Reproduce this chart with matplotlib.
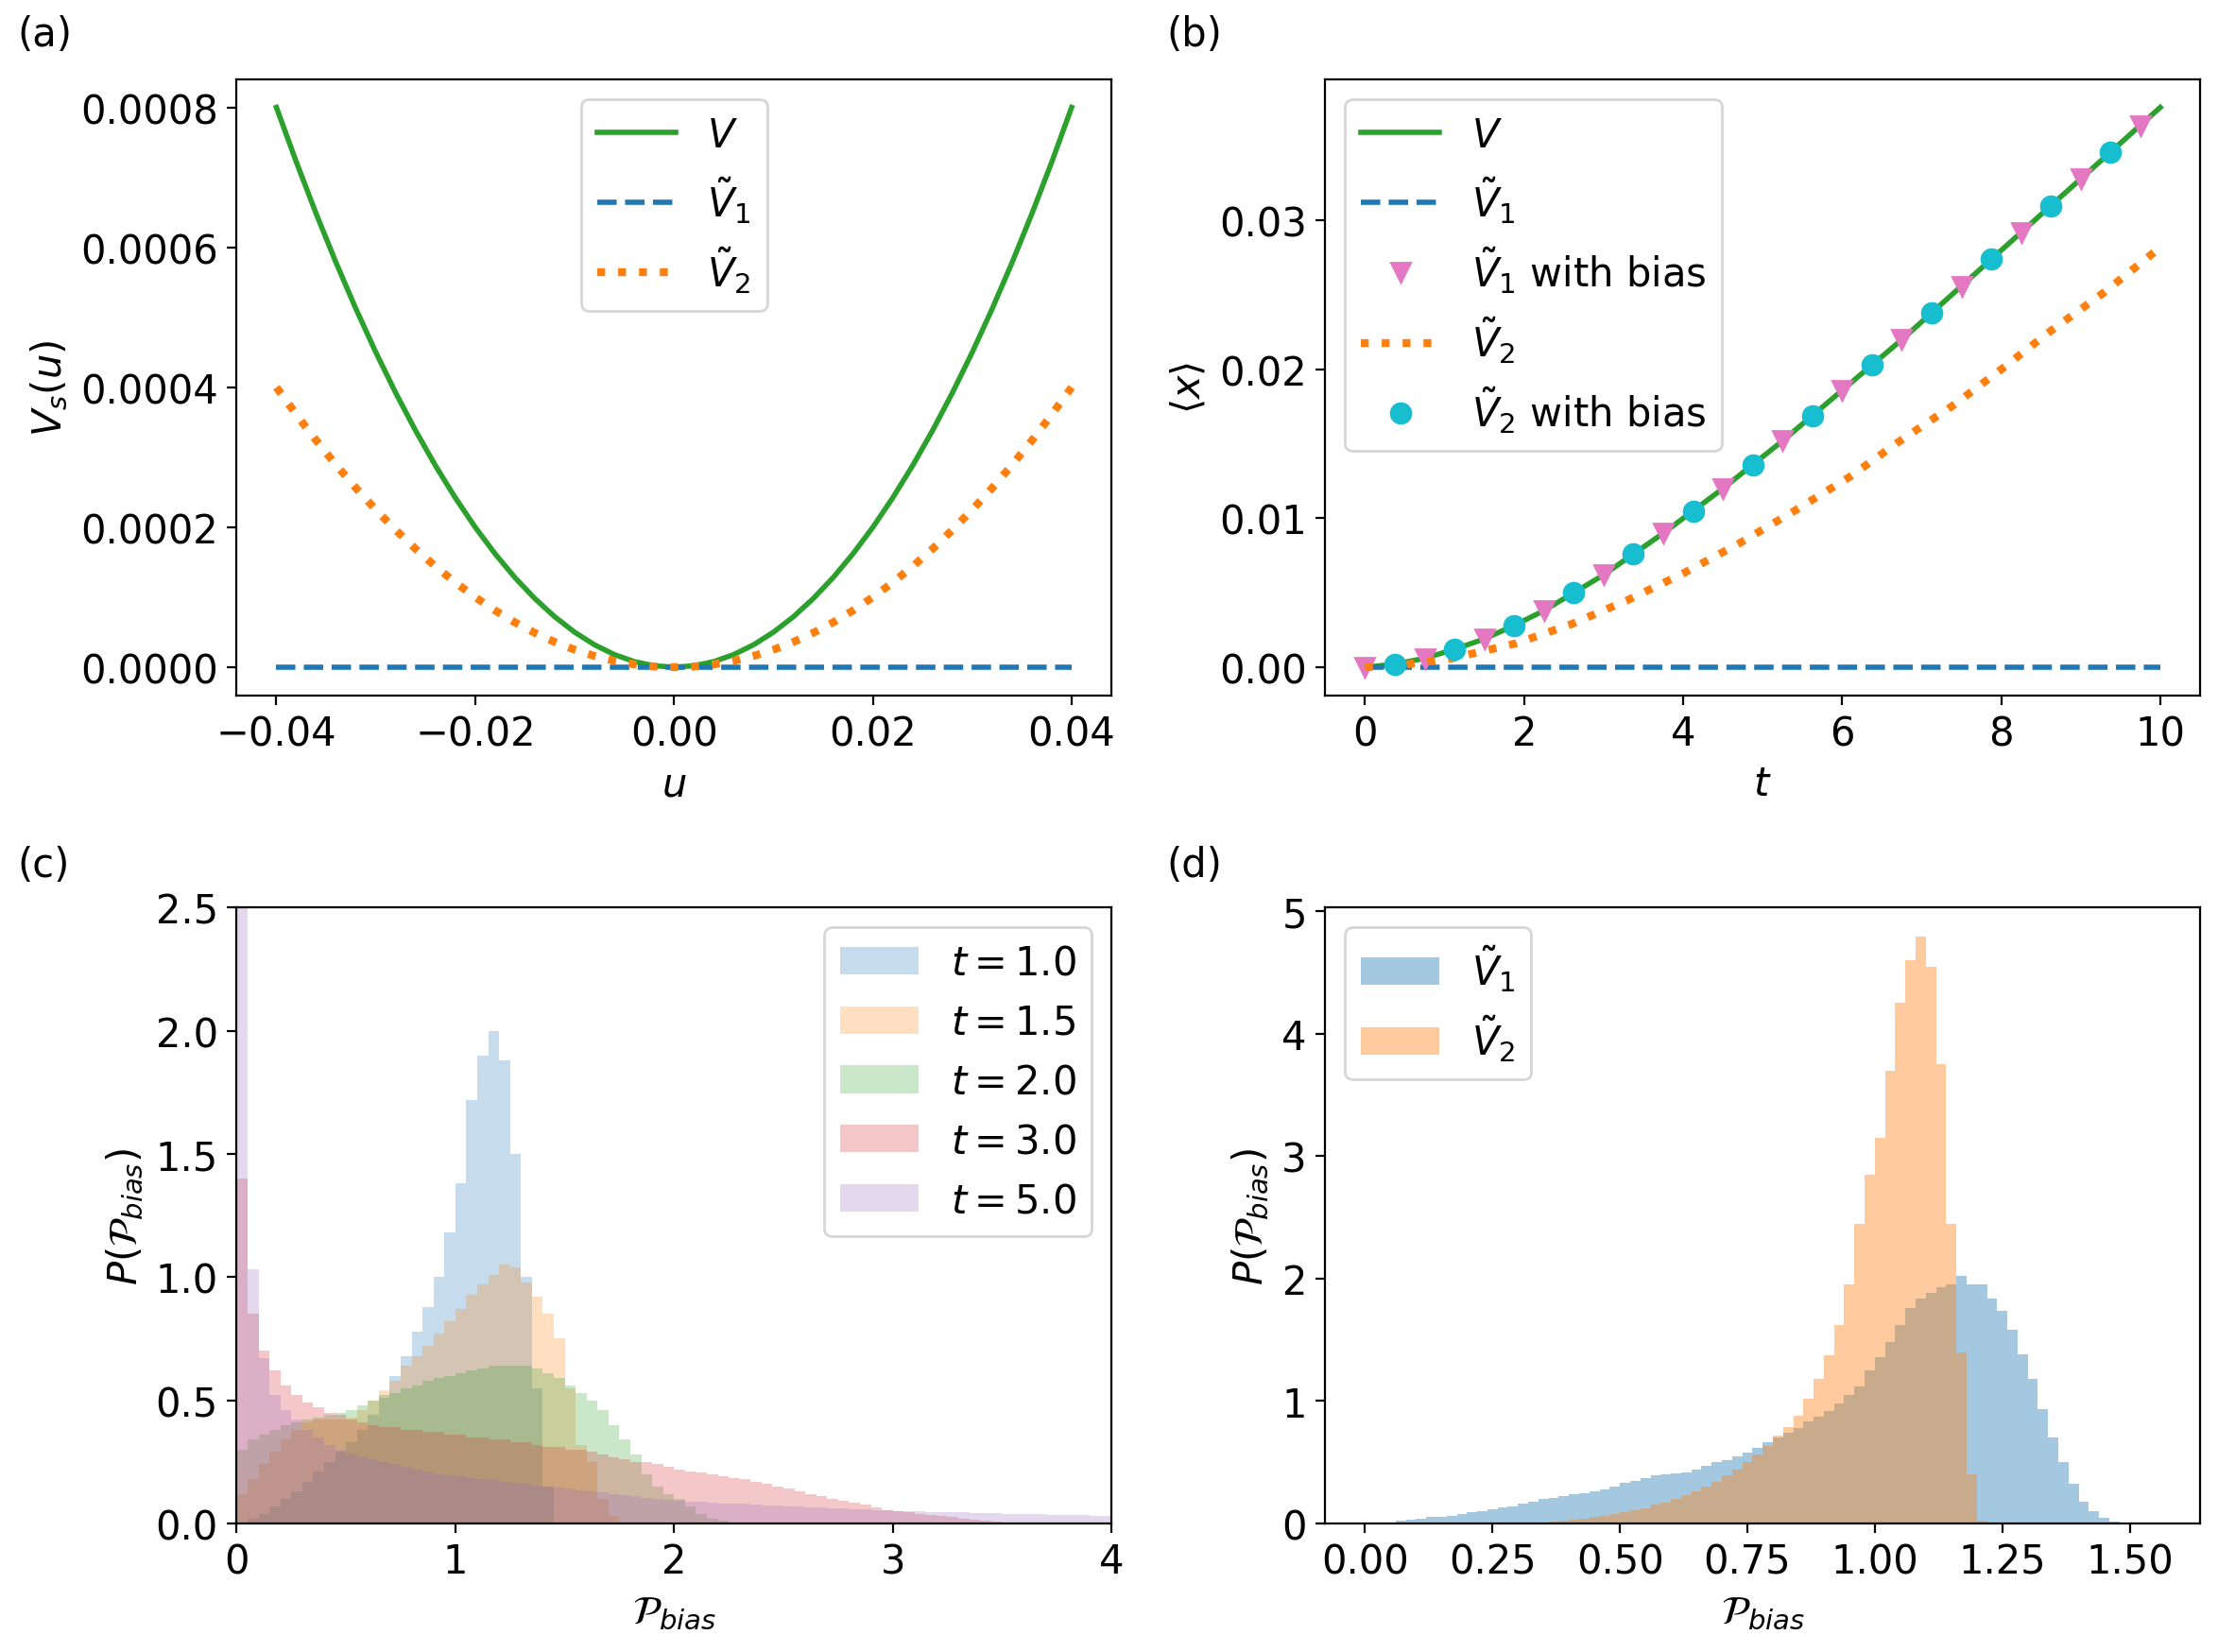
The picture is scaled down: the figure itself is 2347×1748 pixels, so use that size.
import matplotlib
matplotlib.use('Agg')
import matplotlib.pyplot as plt
import numpy as np

plt.rcParams['font.size'] = 15

# ---- (a) potentials ----
u = [-0.040, -0.038, -0.036, -0.034, -0.032, -0.030, -0.028, -0.026, -0.024, -0.022,
     -0.020, -0.018, -0.016, -0.014, -0.012, -0.010, -0.008, -0.006, -0.004, -0.002,
     0.000, 0.002, 0.004, 0.006, 0.008, 0.010, 0.012, 0.014, 0.016, 0.018,
     0.020, 0.022, 0.024, 0.026, 0.028, 0.030, 0.032, 0.034, 0.036, 0.038, 0.040]
V_a = np.array([800, 722, 648, 578, 512, 450, 392, 338, 288, 242,
                200, 162, 128, 98, 72, 50, 32, 18, 8, 2,
                0, 2, 8, 18, 32, 50, 72, 98, 128, 162,
                200, 242, 288, 338, 392, 450, 512, 578, 648, 722, 800]) * 1e-6
V2_a = np.array([400, 361, 324, 289, 256, 225, 196, 169, 144, 121,
                 100, 81, 64, 49, 36, 25, 16, 9, 4, 1,
                 0, 1, 4, 9, 16, 25, 36, 49, 64, 81,
                 100, 121, 144, 169, 196, 225, 256, 289, 324, 361, 400]) * 1e-6
u_flat = [-0.04, 0.04]
V1_a = [0.0, 0.0]

# ---- (b) mean position ----
t_V = [0, 0.375, 0.75, 1.125, 1.5, 1.875, 2.25, 2.625, 3.0, 3.375, 3.75, 4.125, 4.5, 4.875,
       5.25, 5.625, 6.0, 6.375, 6.75, 7.125, 7.5, 7.875, 8.25, 8.625, 9.0, 9.375, 9.75, 10]
x_V = [0, 0.0002, 0.0006, 0.0012, 0.0019, 0.0028, 0.0038, 0.0050, 0.0062, 0.0076, 0.0090,
       0.0105, 0.0120, 0.0136, 0.0152, 0.0169, 0.0186, 0.0203, 0.0220, 0.0238, 0.0256,
       0.0274, 0.0292, 0.0310, 0.0328, 0.0346, 0.0364, 0.0376]
t_V1 = [0, 10]
x_V1 = [0, 0]
t_tri = [0, 0.75, 1.5, 2.25, 3.0, 3.75, 4.5, 5.25, 6.0, 6.75, 7.5, 8.25, 9.0, 9.75]
x_tri = [0, 0.0006, 0.0019, 0.0038, 0.0062, 0.0090, 0.0120, 0.0152, 0.0186, 0.0220,
         0.0256, 0.0292, 0.0328, 0.0364]
t_V2 = [0, 0.4, 1.1, 1.9, 2.6, 3.3, 4.0, 4.7, 5.4, 6.1, 6.7, 7.4, 8.0, 8.6, 9.3, 10]
x_V2 = [0, 0.0001, 0.0006, 0.0016, 0.0029, 0.0045, 0.0063, 0.0083, 0.0105, 0.0128,
        0.0151, 0.0176, 0.0200, 0.0225, 0.0252, 0.0282]
t_circ = [0.375, 1.125, 1.875, 2.625, 3.375, 4.125, 4.875, 5.625, 6.375, 7.125,
          7.875, 8.625, 9.375]
x_circ = [0.0002, 0.0012, 0.0028, 0.0050, 0.0076, 0.0105, 0.0136, 0.0169, 0.0203,
          0.0238, 0.0274, 0.0310, 0.0346]

# ---- (c) P_bias histograms for several times, bin width 0.05 from 0 ----
dw_c = 0.05
labels_c = ['$t=1.0$', '$t=1.5$', '$t=2.0$', '$t=3.0$', '$t=5.0$']
h_t10 = [0.00, 0.02, 0.04, 0.07, 0.10, 0.13, 0.17, 0.21, 0.25, 0.29,
         0.33, 0.38, 0.44, 0.51, 0.60, 0.68, 0.78, 0.88, 1.00, 1.18,
         1.38, 1.72, 1.90, 2.00, 1.88, 1.50, 1.00, 0.55, 0.15, 0.00]
h_t15 = [0.12, 0.18, 0.24, 0.29, 0.34, 0.38, 0.41, 0.42, 0.42, 0.42,
         0.43, 0.46, 0.50, 0.54, 0.58, 0.64, 0.68, 0.72, 0.77, 0.82,
         0.87, 0.93, 0.97, 1.01, 1.05, 1.04, 0.98, 0.92, 0.85, 0.75,
         0.55, 0.32, 0.25, 0.10, 0.03, 0.00]
h_t20 = [0.30, 0.34, 0.36, 0.38, 0.40, 0.41, 0.42, 0.43, 0.44, 0.45,
         0.46, 0.48, 0.50, 0.52, 0.53, 0.55, 0.56, 0.58, 0.59, 0.60,
         0.61, 0.62, 0.63, 0.64, 0.64, 0.64, 0.64, 0.63, 0.61, 0.59,
         0.56, 0.53, 0.50, 0.46, 0.40, 0.34, 0.28, 0.20, 0.15, 0.12,
         0.10, 0.07, 0.04, 0.02, 0.01, 0.00]
h_t30 = [1.40, 0.85, 0.70, 0.62, 0.56, 0.52, 0.49, 0.47, 0.45, 0.44,
         0.42, 0.41, 0.40, 0.39, 0.39, 0.38, 0.38, 0.37, 0.37, 0.36,
         0.36, 0.35, 0.35, 0.34, 0.34, 0.33, 0.33, 0.32, 0.31, 0.31,
         0.30, 0.30, 0.29, 0.28, 0.27, 0.26, 0.25, 0.25, 0.24, 0.23,
         0.22, 0.21, 0.205, 0.20, 0.19, 0.185, 0.18, 0.17, 0.16, 0.15,
         0.14, 0.13, 0.12, 0.11, 0.10, 0.09, 0.085, 0.075, 0.065, 0.055,
         0.05, 0.045, 0.04, 0.035, 0.03, 0.025, 0.02, 0.015, 0.01, 0.007,
         0.005, 0.003, 0.002, 0.001, 0.0]
h_t50 = [3.20, 1.03, 0.67, 0.52, 0.46, 0.42, 0.38, 0.35, 0.32, 0.30,
         0.28, 0.27, 0.26, 0.25, 0.24, 0.23, 0.22, 0.21, 0.20, 0.195,
         0.19, 0.185, 0.18, 0.175, 0.17, 0.165, 0.16, 0.155, 0.15, 0.145,
         0.14, 0.135, 0.13, 0.125, 0.12, 0.115, 0.11, 0.105, 0.10, 0.095,
         0.09, 0.088, 0.087, 0.084, 0.082, 0.080, 0.079, 0.076, 0.074, 0.072,
         0.070, 0.069, 0.066, 0.064, 0.063, 0.060, 0.058, 0.057, 0.054, 0.052,
         0.051, 0.049, 0.048, 0.047, 0.046, 0.045, 0.044, 0.043, 0.042, 0.041,
         0.040, 0.039, 0.038, 0.037, 0.036, 0.035, 0.034, 0.033, 0.032, 0.032]
hists_c = [h_t10, h_t15, h_t20, h_t30, h_t50]

# ---- (d) P_bias histograms for the two approximations, bin width 0.02 ----
dw_d = 0.02
h_V1 = [0, 0.005, 0.01, 0.02, 0.03, 0.04, 0.05, 0.055, 0.065, 0.075,
        0.09, 0.10, 0.115, 0.13, 0.14, 0.16, 0.18, 0.20, 0.21, 0.225,
        0.235, 0.25, 0.265, 0.28, 0.30, 0.33, 0.35, 0.37, 0.39, 0.40,
        0.41, 0.42, 0.44, 0.47, 0.50, 0.52, 0.55, 0.58, 0.62, 0.66,
        0.70, 0.74, 0.78, 0.83, 0.87, 0.92, 0.98, 1.05, 1.12, 1.25,
        1.36, 1.48, 1.62, 1.76, 1.84, 1.88, 1.93, 1.95, 2.02, 1.95,
        1.95, 1.84, 1.74, 1.58, 1.38, 1.18, 0.93, 0.70, 0.50, 0.32,
        0.18, 0.10, 0.045, 0.015, 0.003, 0, 0, 0]
h_V2 = [0, 0, 0, 0, 0, 0, 0, 0, 0, 0,
        0, 0, 0, 0.002, 0.004, 0.006, 0.008, 0.01, 0.015, 0.02,
        0.03, 0.04, 0.05, 0.06, 0.075, 0.09, 0.105, 0.125, 0.15, 0.17,
        0.20, 0.23, 0.26, 0.30, 0.34, 0.39, 0.44, 0.50, 0.56, 0.63,
        0.72, 0.79, 0.88, 1.02, 1.18, 1.37, 1.62, 1.95, 2.45, 2.85,
        3.15, 3.70, 4.25, 4.60, 4.79, 4.55, 3.75, 2.45, 1.40, 0.40,
        0.02, 0, 0, 0, 0, 0, 0, 0, 0, 0,
        0, 0, 0, 0, 0, 0, 0, 0]


def draw_hist(ax, heights, width, **kw):
    edges = width * np.arange(len(heights) + 1)
    centers = 0.5 * (edges[:-1] + edges[1:])
    ax.hist(centers, bins=edges, weights=heights, histtype='stepfilled', **kw)


fig, axs = plt.subplots(2, 2, figsize=(11.735, 8.745), dpi=200)
fig.subplots_adjust(left=0.1067, right=0.9919, bottom=0.0778, top=0.9514,
                    wspace=0.2445, hspace=0.345)

# (a)
ax = axs[0, 0]
ax.plot(u, V_a, color='tab:green', lw=2, label='$V$')
ax.plot(u_flat, V1_a, color='tab:blue', lw=2, ls='--', label=r'$\tilde{V}_1$')
ax.plot(u, V2_a, color='tab:orange', lw=3, ls=':', label=r'$\tilde{V}_2$')
ax.set_xlabel('$u$')
ax.set_ylabel('$V_s(u)$')
ax.legend(loc='upper center')

# (b)
ax = axs[0, 1]
ax.plot(t_V, x_V, color='tab:green', lw=2, label='$V$')
ax.plot(t_V1, x_V1, color='tab:blue', lw=2, ls='--', label=r'$\tilde{V}_1$')
ax.plot(t_tri, x_tri, 'v', color='tab:pink', ms=7.5, label=r'$\tilde{V}_1$ with bias')
ax.plot(t_V2, x_V2, color='tab:orange', lw=3, ls=':', label=r'$\tilde{V}_2$')
ax.plot(t_circ, x_circ, 'o', color='tab:cyan', ms=7.5, label=r'$\tilde{V}_2$ with bias')
ax.set_xlabel('$t$')
ax.set_ylabel(r'$\langle x \rangle$')
ax.legend(loc='upper left')

# (c)
ax = axs[1, 0]
cols_c = ['tab:blue', 'tab:orange', 'tab:green', 'tab:red', 'tab:purple']
for h, c, lab in zip(hists_c, cols_c, labels_c):
    draw_hist(ax, h, dw_c, color=c, alpha=0.25, label=lab)
ax.set_xlim(0, 4)
ax.set_ylim(0, 2.5)
ax.set_xlabel(r'$\mathcal{P}_{bias}$')
ax.set_ylabel(r'$P(\mathcal{P}_{bias})$')
ax.legend(loc='upper right')

# (d)
ax = axs[1, 1]
draw_hist(ax, h_V1, dw_d, color='tab:blue', alpha=0.4, label=r'$\tilde{V}_1$')
draw_hist(ax, h_V2, dw_d, color='tab:orange', alpha=0.4, label=r'$\tilde{V}_2$')
ax.set_xlim(-0.078, 1.638)
ax.set_ylim(0, 5.03)
ax.set_xlabel(r'$\mathcal{P}_{bias}$')
ax.set_ylabel(r'$P(\mathcal{P}_{bias})$')
ax.legend(loc='upper left')

for lab, x, y in [('(a)', 0.008, 0.991), ('(b)', 0.526, 0.991),
                  ('(c)', 0.008, 0.488), ('(d)', 0.526, 0.488)]:
    fig.text(x, y, lab, ha='left', va='top')

fig.savefig('out.png', dpi=200)
